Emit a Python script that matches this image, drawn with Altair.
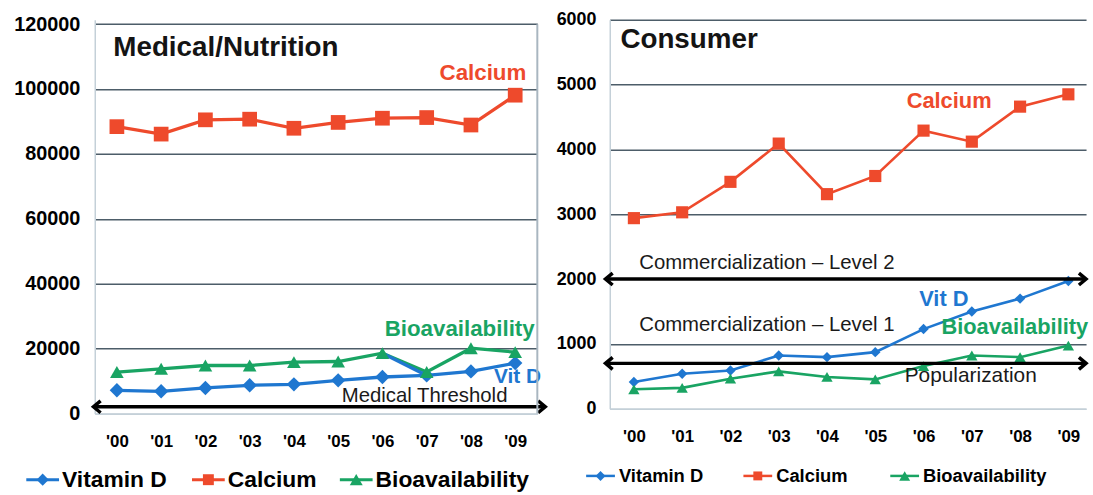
import json
import altair as alt
import pandas as pd

# ---------------- data ----------------
years = ["'00", "'01", "'02", "'03", "'04", "'05", "'06", "'07", "'08", "'09"]
series_names = ["Vitamin D", "Calcium", "Bioavailability"]

medical_vitamin_d = [7130, 6820, 7850, 8660, 8960, 10190, 11220, 11710, 12940, 15500]
medical_calcium = [88400, 86100, 90500, 90700, 87900, 89700, 91000, 91200, 88900, 98100]
medical_bioavailability = [12750, 13760, 14770, 14770, 15790, 16000, 18560, 12750, 20090, 18870]
medical_vitd_stray_years = [6, 7]
medical_vitd_stray_values = [18560, 11710]
medical_threshold = [2050]
medical_ticks = [0, 20000, 40000, 60000, 80000, 100000, 120000]
medical_notes = ["Calcium", "Bioavailability", "Vit D", "Medical Threshold"]
medical_note_x = [7.29, 6.05, 8.52, 5.08]
medical_note_y = [105000, 26000, 11300, 5400]

consumer_vitamin_d = [413, 540, 591, 821, 796, 873, 1229, 1500, 1699, 1970]
consumer_calcium = [2940, 3030, 3500, 4090, 3310, 3590, 4290, 4120, 4660, 4850]
consumer_bioavailability = [300, 322, 464, 576, 490, 453, 658, 821, 796, 974]
consumer_thresholds = [2000, 700]
consumer_ticks = [0, 1000, 2000, 3000, 4000, 5000, 6000]
consumer_notes = ["Calcium", "Commercialization \u2013 Level 2", "Commercialization \u2013 Level 1",
                  "Vit D", "Bioavailability", "Popularization"]
consumer_note_x = [5.65, 0.11, 0.11, 5.91, 6.37, 5.61]
consumer_note_y = [4750, 2250, 1290, 1690, 1255, 500]

# ---------------- styles ----------------
FONT = "Liberation Sans"
COLORS = ["#1f77d0", "#ee4a2c", "#19a463"]
SHAPES = ["diamond", "square", "triangle-up"]
GRID = "#4d5d69"
LIGHT = "#c4d0d8"
LEFT_CHEVRON = "M0.6,-1L-0.6,0L0.6,1"
RIGHT_CHEVRON = "M-0.6,-1L0.6,0L-0.6,1"


def long_df(vitd, calc, bio):
    rows = []
    for name, vals in zip(series_names, [vitd, calc, bio]):
        for i, v in enumerate(vals):
            rows.append({"i": i, "series": name, "value": v})
    return pd.DataFrame(rows)


def panel(df, W, H, xmax, ydom, yticks, ylab_size, ylab_pad, lw, msizes,
          thresholds, arrow_left, arrow_right, rule_x0, rule_x1,
          notes, nx, ny, note_styles, title, tx, ty, title_size,
          leg_sx, leg_w, leg_off, leg_y, leg_font, leg_msizes, leg_lw,
          extra_layers=None, right_border=False):
    x_enc = alt.X("i:Q", scale=alt.Scale(domain=[-0.5, xmax], nice=False, zero=False),
                  axis=alt.Axis(values=list(range(10)),
                                labelExpr=json.dumps(years) + "[datum.value]",
                                grid=False, ticks=False, domainColor=LIGHT, domainWidth=1.5,
                                labelFontSize=17, labelPadding=20, title=None,
                                labelFlush=False))
    y_enc = alt.Y("value:Q", scale=alt.Scale(domain=[0, ydom], nice=False, zero=True),
                  axis=alt.Axis(values=yticks, format="d", grid=True,
                                gridColor={"condition": {"test": "datum.value === 0", "value": LIGHT},
                                           "value": GRID},
                                gridWidth=1.6, ticks=False, domainColor=LIGHT, domainWidth=1.5,
                                labelFontSize=ylab_size, labelPadding=ylab_pad, title=None))
    cscale = alt.Scale(domain=series_names, range=COLORS)

    layers = []
    layers.append(alt.Chart(df).mark_line(strokeWidth=lw).encode(
        x=x_enc, y=y_enc, stroke=alt.Stroke("series:N", scale=cscale, legend=None)))
    if extra_layers is not None:
        layers.append(alt.Chart(extra_layers).mark_line(strokeWidth=lw, color=COLORS[0]).encode(
            x=x_enc, y=y_enc))
    for shape, name, size in zip(SHAPES, series_names, msizes):
        layers.append(alt.Chart(df).transform_filter(alt.datum.series == name).mark_point(
            shape=shape, filled=True, size=size, opacity=1, strokeWidth=0).encode(
            x=x_enc, y=y_enc, fill=alt.Fill("series:N", scale=cscale, legend=None)))

    # threshold arrows
    tdf = pd.DataFrame({"value": thresholds})
    layers.append(alt.Chart(tdf).mark_rule(color="black", strokeWidth=3.5).encode(
        y=y_enc, x=alt.value(rule_x0), x2=alt.value(rule_x1)))
    layers.append(alt.Chart(tdf).mark_point(shape=LEFT_CHEVRON, size=144, filled=False,
                                            stroke="black", strokeWidth=3.5, opacity=1).encode(
        y=y_enc, x=alt.value(arrow_left)))
    layers.append(alt.Chart(tdf).mark_point(shape=RIGHT_CHEVRON, size=144, filled=False,
                                            stroke="black", strokeWidth=3.5, opacity=1).encode(
        y=y_enc, x=alt.value(arrow_right)))

    # annotations
    for k, label in enumerate(notes):
        color, size, weight = note_styles[k]
        ndf = pd.DataFrame({"i": [nx[k]], "value": [ny[k]], "label": [label]})
        layers.append(alt.Chart(ndf).mark_text(
            align="left", baseline="middle", font=FONT, fontSize=size, fontWeight=weight,
            color=color).encode(x=x_enc, y=y_enc, text="label:N"))

    # panel title
    layers.append(alt.Chart(pd.DataFrame({"label": [title]})).mark_text(
        align="left", baseline="middle", font=FONT, fontSize=title_size, fontWeight="bold",
        color="#141414").encode(x=alt.value(tx), y=alt.value(ty), text="label:N"))

    if right_border:
        top_px = H - H * yticks[-1] / ydom
        layers.append(alt.Chart(tdf).mark_rule(color="#a9b6c0", strokeWidth=2).encode(
            x=alt.value(W), y=alt.value(top_px), y2=alt.value(H)))

    # legend row (line + marker + label for each series)
    for k, name in enumerate(series_names):
        ldf = pd.DataFrame({"label": [name]})
        sx = leg_sx[k]
        layers.append(alt.Chart(ldf).mark_rule(color=COLORS[k], strokeWidth=leg_lw).encode(
            x=alt.value(sx), x2=alt.value(sx + leg_w), y=alt.value(leg_y)))
        layers.append(alt.Chart(ldf).mark_point(
            shape=SHAPES[k], filled=True, size=leg_msizes[k], color=COLORS[k], opacity=1,
            strokeWidth=0).encode(x=alt.value(sx + leg_w / 2), y=alt.value(leg_y)))
        layers.append(alt.Chart(ldf).mark_text(
            align="left", baseline="middle", font=FONT, fontSize=leg_font, fontWeight="bold",
            color="black").encode(x=alt.value(sx + leg_w + leg_off), y=alt.value(leg_y),
                                  text="label:N"))

    return alt.layer(*layers).properties(width=W, height=H)


# ---------------- left panel ----------------
WL, HL = 446, 396.7
left = panel(
    long_df(medical_vitamin_d, medical_calcium, medical_bioavailability),
    W=WL, H=HL, xmax=9.5, ydom=120000 * HL / 392.3, yticks=medical_ticks,
    ylab_size=20, ylab_pad=15, lw=3.3, msizes=[210, 220, 190],
    thresholds=medical_threshold, arrow_left=2.3, arrow_right=WL + 4.4,
    rule_x0=-1, rule_x1=WL + 7,
    notes=medical_notes, nx=medical_note_x, ny=medical_note_y,
    note_styles=[(COLORS[1], 22.5, "bold"), (COLORS[2], 22.5, "bold"),
                 (COLORS[0], 21, "bold"), ("#1a1a1a", 20.5, "normal")],
    title="Medical/Nutrition", tx=18.7, ty=28.4, title_size=28,
    leg_sx=[-69, 98, 247], leg_w=33, leg_off=3, leg_y=463.5, leg_font=23,
    leg_msizes=[150, 121, 170], leg_lw=3,
    extra_layers=pd.DataFrame({"i": medical_vitd_stray_years, "value": medical_vitd_stray_values}),
    right_border=True,
)

# ---------------- right panel ----------------
WR, HR = 480, 392
right = panel(
    long_df(consumer_vitamin_d, consumer_calcium, consumer_bioavailability),
    W=WR, H=HR, xmax=-0.5 + WR / 48.65, ydom=6000, yticks=consumer_ticks,
    ylab_size=18, ylab_pad=14, lw=2.6, msizes=[110, 150, 130],
    thresholds=consumer_thresholds, arrow_left=-0.7, arrow_right=WR - 3.6,
    rule_x0=-4, rule_x1=WR,
    notes=consumer_notes, nx=consumer_note_x, ny=consumer_note_y,
    note_styles=[(COLORS[1], 22, "bold"), ("#1a1a1a", 20.5, "normal"), ("#1a1a1a", 20.5, "normal"),
                 (COLORS[0], 22, "bold"), (COLORS[2], 22, "bold"), ("#1a1a1a", 21, "normal")],
    title="Consumer", tx=10.7, ty=20, title_size=28,
    leg_sx=[-23.8, 134.7, 282.7], leg_w=29, leg_off=4, leg_y=459.7, leg_font=18.5,
    leg_msizes=[100, 81, 121], leg_lw=2.5,
)

chart = alt.hconcat(left, right, spacing=73, bounds="flush").resolve_scale(
    fill="independent", stroke="independent", x="independent", y="independent"
).properties(
    padding={"left": 13.5, "top": 9, "right": 0, "bottom": 0}, background="white"
).configure_view(stroke=None).configure_axis(
    labelFont=FONT, labelFontWeight="bold", labelColor="black"
)

chart.save("out.html", embed_options={"renderer": "svg", "actions": False})
